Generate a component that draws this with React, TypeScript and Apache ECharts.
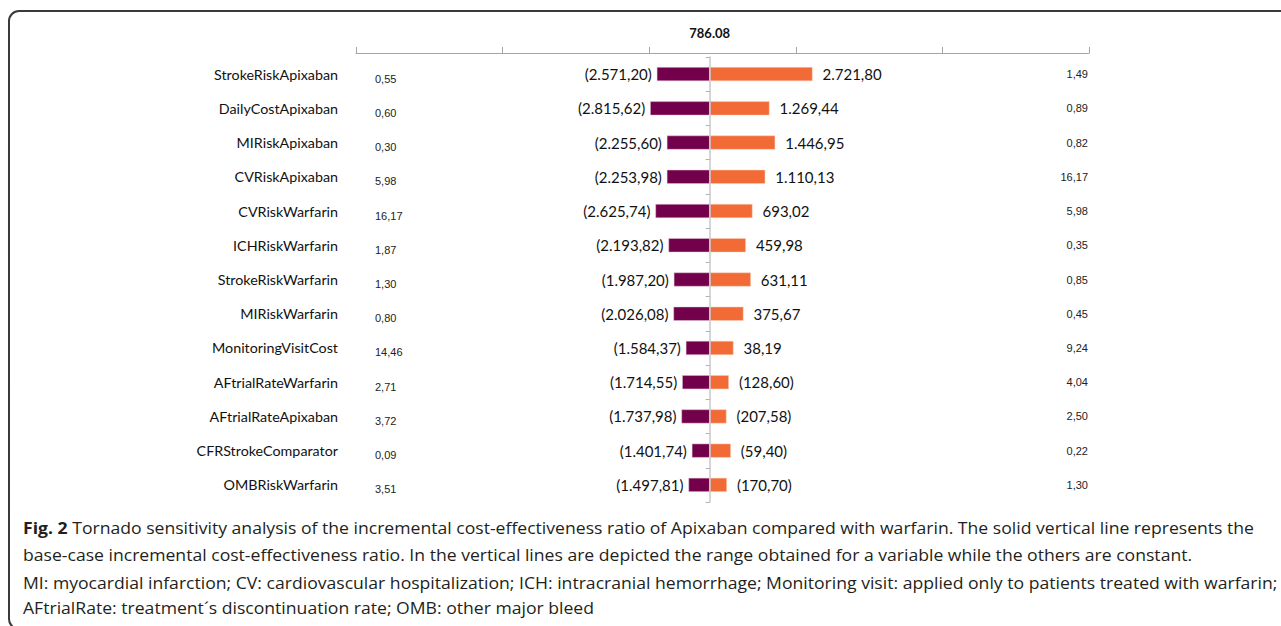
import React, { useEffect, useRef } from "react";
import * as echarts from "echarts";

const categories = [
  "StrokeRiskApixaban",
  "DailyCostApixaban",
  "MIRiskApixaban",
  "CVRiskApixaban",
  "CVRiskWarfarin",
  "ICHRiskWarfarin",
  "StrokeRiskWarfarin",
  "MIRiskWarfarin",
  "MonitoringVisitCost",
  "AFtrialRateWarfarin",
  "AFtrialRateApixaban",
  "CFRStrokeComparator",
  "OMBRiskWarfarin",
];

// low / high value of each input variable
const lowInput = [0.55, 0.6, 0.3, 5.98, 16.17, 1.87, 1.3, 0.8, 14.46, 2.71, 3.72, 0.09, 3.51];
const highInput = [1.49, 0.89, 0.82, 16.17, 5.98, 0.35, 0.85, 0.45, 9.24, 4.04, 2.5, 0.22, 1.3];

// ICER obtained at low / high value (bar labels)
const lowICER = [-2571.2, -2815.62, -2255.6, -2253.98, -2625.74, -2193.82, -1987.2, -2026.08, -1584.37, -1714.55, -1737.98, -1401.74, -1497.81];
const highICER = [2721.8, 1269.44, 1446.95, 1110.13, 693.02, 459.98, 631.11, 375.67, 38.19, -128.6, -207.58, -59.4, -170.7];

// drawn bar extents relative to the base case (chart units)
const lowBarExtent = [-721, -812, -584, -584, -740, -562, -489, -494, -325, -375, -385, -243, -289];
const highBarExtent = [1403, 816, 894, 758, 584, 494, 562, 461, 325, 262, 229, 289, 235];

const baseCase = "786.08";

const captionLines = [
  "{b|Fig. 2} Tornado sensitivity analysis of the incremental cost-effectiveness ratio of Apixaban compared with warfarin. The solid vertical line represents the",
  "base-case incremental cost-effectiveness ratio. In the vertical lines are depicted the range obtained for a variable while the others are constant.",
  "MI: myocardial infarction; CV: cardiovascular hospitalization; ICH: intracranial hemorrhage; Monitoring visit: applied only to patients treated with warfarin;",
  "AFtrialRate: treatment\u00b4s discontinuation rate; OMB: other major bleed",
];

function fmtMoney(v: number): string {
  const s = Math.abs(v).toFixed(2);
  const [i, d] = s.split(".");
  const ip = i.replace(/\B(?=(\d{3})+(?!\d))/g, ".");
  const out = ip + "," + d;
  return v < 0 ? "(" + out + ")" : out;
}
function fmtDec(v: number): string {
  return v.toFixed(2).replace(".", ",");
}

const CAP_FONT = '"Open Sans"';
const CAP_SIZE = 16.5;

export default function App() {
  const ref = useRef<HTMLDivElement>(null);
  useEffect(() => {
    if (!ref.current) return;
    const chart = echarts.init(ref.current, null, { renderer: "svg" });

    const cv = document.createElement("canvas");
    const ctx = cv.getContext("2d")!;
    ctx.font = `${CAP_SIZE}px ${CAP_FONT}`;
    const w3 = ctx.measureText(captionLines[2]).width;
    const capScale = 1255 / w3;
    const capY = [528, 555, 583, 608];

    const grid = { left: 356, right: 192, top: 57, bottom: 124 };

    chart.setOption({
      animation: false,
      backgroundColor: "#ffffff",
      grid,
      xAxis: [
        {
          type: "value",
          position: "top",
          offset: 4,
          min: 0,
          max: 5,
          interval: 1,
          axisLine: { show: true, lineStyle: { color: "#a6a6a6", width: 1 } },
          axisTick: { show: true, length: 6, lineStyle: { color: "#a6a6a6" } },
          axisLabel: { show: false },
          splitLine: { show: false },
        },
        {
          type: "value",
          position: "top",
          min: -4825,
          max: 5175,
          show: false,
          splitLine: { show: false },
        },
      ],
      yAxis: [
        {
          type: "category",
          data: categories,
          inverse: true,
          name: baseCase,
          nameLocation: "start",
          nameGap: 18,
          nameTextStyle: { fontFamily: "Lato", fontWeight: "bold", fontSize: 13, color: "#111" },
          axisLine: { show: true, onZero: true, onZeroAxisIndex: 1, lineStyle: { color: "#c8c8c8", width: 1.5 } },
          axisTick: { show: true, length: 4, lineStyle: { color: "#b0b0b0" } },
          axisLabel: { show: false },
          z: 5,
        },
        {
          type: "category",
          data: categories,
          inverse: true,
          position: "left",
          axisLine: { show: false, onZero: false },
          axisTick: { show: false },
          axisLabel: { margin: 18, fontFamily: "Lato", fontSize: 14.3, color: "#111" },
        },
        {
          type: "category",
          data: categories,
          inverse: true,
          position: "left",
          axisLine: { show: false, onZero: false },
          axisTick: { show: false },
          axisLabel: {
            inside: true,
            margin: 19,
            fontFamily: "Liberation Sans",
            fontSize: 11,
            lineHeight: 9,
            verticalAlign: "top",
            color: "#222",
            formatter: (_v: string, i: number) => fmtDec(lowInput[i]),
          },
        },
        {
          type: "category",
          data: categories,
          inverse: true,
          position: "right",
          axisLine: { show: false, onZero: false },
          axisTick: { show: false },
          axisLabel: {
            inside: true,
            margin: 1,
            fontFamily: "Liberation Sans",
            fontSize: 11,
            color: "#222",
            formatter: (_v: string, i: number) => fmtDec(highInput[i]),
          },
        },
      ],
      series: [
        {
          type: "bar",
          name: "low",
          xAxisIndex: 1,
          yAxisIndex: 0,
          stack: "t",
          barWidth: 14,
          data: lowBarExtent,
          itemStyle: { color: "#72004a", borderColor: "#e9c7d8", borderWidth: 0.5 },
          label: {
            show: true,
            position: "left",
            distance: 5,
            fontFamily: "Lato",
            fontSize: 15,
            color: "#111",
            formatter: (p: any) => fmtMoney(lowICER[p.dataIndex]),
          },
        },
        {
          type: "bar",
          name: "high",
          xAxisIndex: 1,
          yAxisIndex: 0,
          stack: "t",
          barWidth: 14,
          data: highBarExtent,
          itemStyle: { color: "#f26a36", borderColor: "#fbd0bd", borderWidth: 0.5 },
          label: {
            show: true,
            position: "right",
            distance: 10,
            fontFamily: "Lato",
            fontSize: 15,
            color: "#111",
            formatter: (p: any) => fmtMoney(highICER[p.dataIndex]),
          },
        },
      ],
      graphic: [
        {
          type: "rect",
          shape: { x: 9, y: 11, width: 1300, height: 618, r: 10 },
          style: { fill: "none", stroke: "#3a3a3a", lineWidth: 2 },
          silent: true,
        },
        ...captionLines.map((t, k) => ({
          type: "text",
          x: 23,
          y: capY[k],
          scaleX: capScale,
          silent: true,
          style: {
            text: t,
            fontFamily: CAP_FONT,
            fontSize: CAP_SIZE,
            fill: "#231f20",
            verticalAlign: "middle",
            rich: {
              b: { fontFamily: CAP_FONT, fontSize: CAP_SIZE, fontWeight: "bold", fill: "#231f20" },
            },
          },
        })),
      ],
    });
    return () => chart.dispose();
  }, []);
  return (
    <div
      ref={ref}
      style={{ position: "absolute", left: 0, top: 0, width: 1281, height: 626 }}
    />
  );
}
